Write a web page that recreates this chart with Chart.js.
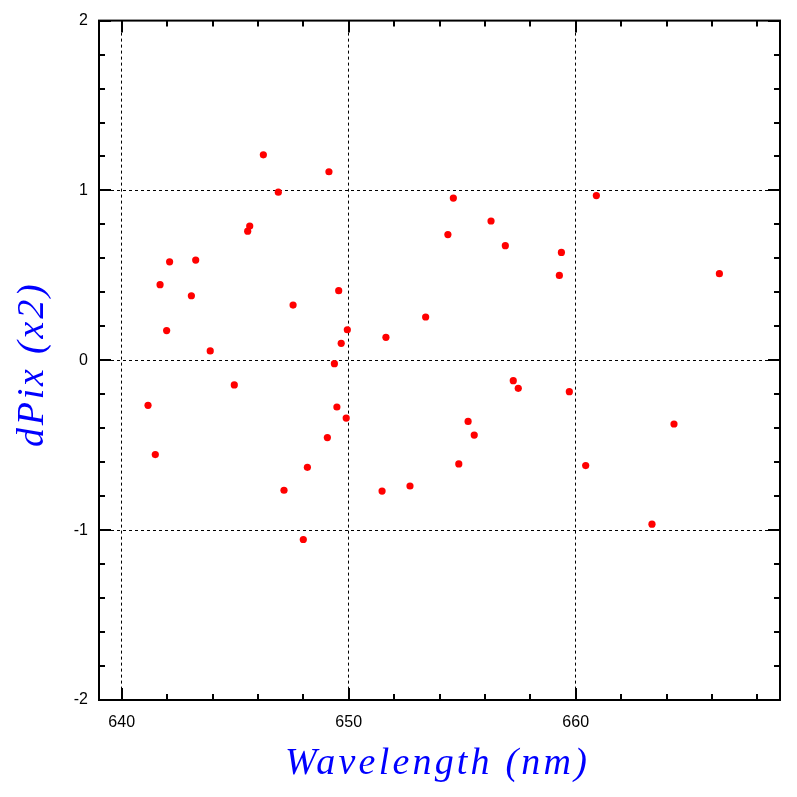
<!DOCTYPE html>
<html>
<head>
<meta charset="utf-8">
<script src="https://cdn.jsdelivr.net/npm/chart.js@4"></script>
<style>
  html, body { margin: 0; padding: 0; background: #fff; }
  canvas { display: block; }
</style>
</head>
<body>
<canvas id="myChart" width="797" height="797"></canvas>
<script>
const wavelength = [
  646.24, 649.13, 646.90, 645.64, 645.55, 642.11, 643.26, 641.69, 643.07, 649.56,
  647.55, 641.98, 649.94, 649.67, 651.64, 643.90, 654.61, 660.91, 656.27, 654.37,
  656.90, 659.37, 659.28, 666.33, 653.39, 649.37, 644.96, 641.16, 649.48, 649.89,
  649.06, 641.48, 648.18, 647.15, 651.47, 648.00, 652.70, 654.85, 655.26, 655.53,
  657.25, 657.47, 659.72, 660.44, 664.33, 663.36
];
const dPix = [
  1.21, 1.11, 0.99, 0.79, 0.76, 0.58, 0.59, 0.445, 0.38, 0.41,
  0.325, 0.175, 0.18, 0.10, 0.135, 0.055, 0.955, 0.97, 0.82, 0.74,
  0.675, 0.635, 0.50, 0.51, 0.255, -0.02, -0.145, -0.265, -0.275, -0.34,
  -0.455, -0.555, -0.63, -0.765, -0.77, -1.055, -0.74, -0.61, -0.36, -0.44,
  -0.12, -0.165, -0.185, -0.62, -0.375, -0.965
];
const xTicks = [640, 650, 660];
const yTicks = [-2, -1, 0, 1, 2];
const xMinorStep = 2;
const yMinorStep = 0.2;
const xTitle = 'Wavelength (nm)';
const yTitle = 'dPix (x2)';

// frame + inward tick marks on all four sides
const frameTicks = {
  id: 'frameTicks',
  afterDraw(chart) {
    const { ctx, chartArea: a, scales: { x, y } } = chart;
    ctx.save();
    ctx.strokeStyle = '#000';
    ctx.lineWidth = 2;
    ctx.strokeRect(a.left, a.top, a.right - a.left, a.bottom - a.top);
    ctx.beginPath();
    for (let v = x.min; v <= x.max + 1e-6; v += 1) {
      const r = Math.round(v);
      if ((r - 640) % xMinorStep !== 0) continue;
      const len = xTicks.includes(r) ? 12 : 6;
      const px = Math.round(x.getPixelForValue(r));
      ctx.moveTo(px, a.bottom); ctx.lineTo(px, a.bottom - len);
      ctx.moveTo(px, a.top); ctx.lineTo(px, a.top + len);
    }
    for (let i = 0; i <= Math.round((y.max - y.min) / yMinorStep); i++) {
      const v = y.min + i * yMinorStep;
      const major = Math.abs(v - Math.round(v)) < 1e-6;
      const len = major ? 12 : 6;
      const py = Math.round(y.getPixelForValue(v));
      ctx.moveTo(a.left, py); ctx.lineTo(a.left + len, py);
      ctx.moveTo(a.right, py); ctx.lineTo(a.right - len, py);
    }
    ctx.stroke();
    ctx.restore();
  }
};

// axis titles, spaced out like the original plotter font
const axisTitles = {
  id: 'axisTitles',
  afterDraw(chart) {
    const { ctx, chartArea: a } = chart;
    ctx.save();
    ctx.fillStyle = '#0000ff';
    ctx.textAlign = 'center';
    ctx.textBaseline = 'middle';
    ctx.font = 'italic 38px "Liberation Serif"';
    ctx.letterSpacing = '3.2px';
    ctx.fillText(xTitle, (a.left + a.right) / 2 - 2, 764);
    ctx.translate(33, (a.top + a.bottom) / 2 + 4);
    ctx.rotate(-Math.PI / 2);
    ctx.letterSpacing = '2.8px';
    ctx.fillText(yTitle, 0, 0);
    ctx.restore();
  }
};

const edgeless = (ctx) => {
  const v = ctx.tick && ctx.tick.value;
  return (v === -2 || v === 2) ? 'rgba(0,0,0,0)' : '#000';
};

new Chart(document.getElementById('myChart').getContext('2d'), {
  type: 'scatter',
  data: {
    datasets: [{
      data: wavelength.map((w, i) => ({ x: w, y: dPix[i] })),
      backgroundColor: '#ff0000',
      borderWidth: 0,
      pointRadius: 3.6,
    }]
  },
  options: {
    responsive: false,
    devicePixelRatio: 1,
    animation: false,
    layout: { padding: { top: 19, right: 17, left: 0, bottom: 0 } },
    plugins: { legend: { display: false }, tooltip: { enabled: false } },
    scales: {
      x: {
        type: 'linear',
        min: 639,
        max: 669,
        afterBuildTicks: (scale) => { scale.ticks = xTicks.map(v => ({ value: v })); },
        afterFit: (scale) => { scale.height = 97; },
        grid: { color: '#000', lineWidth: 1, drawTicks: false },
        border: { display: false, dash: [3, 3] },
        ticks: {
          color: '#000',
          padding: 13,
          maxRotation: 0,
          font: { family: 'Liberation Sans', size: 16 },
        },
      },
      y: {
        min: -2,
        max: 2,
        afterBuildTicks: (scale) => { scale.ticks = yTicks.map(v => ({ value: v })); },
        afterFit: (scale) => { scale.width = 99; },
        grid: { color: edgeless, lineWidth: 1, drawTicks: false },
        border: { display: false, dash: [3, 3] },
        ticks: {
          color: '#000',
          padding: 11,
          font: { family: 'Liberation Sans', size: 16 },
        },
      },
    },
  },
  plugins: [frameTicks, axisTitles],
});
</script>
</body>
</html>
